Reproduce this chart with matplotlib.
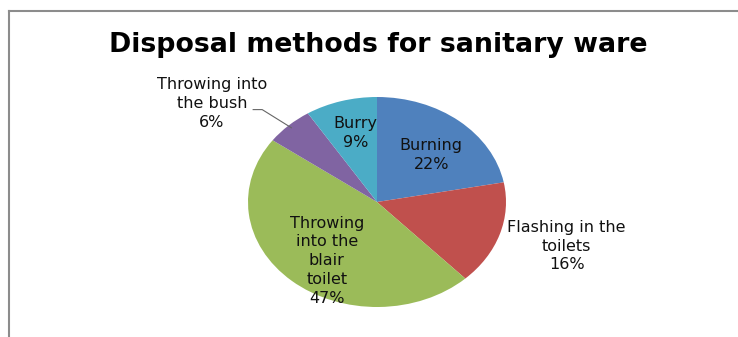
import matplotlib
matplotlib.use("Agg")
import matplotlib.pyplot as plt
import numpy as np

plt.rcParams['font.family'] = ['DejaVu Sans']

# data
categories = ["Burning", "Flashing in the\ntoilets", "Throwing\ninto the\nblair\ntoilet",
              "Throwing into\nthe bush", "Burry"]
shares = [22, 16, 47, 6, 9]
colors = ["#4F81BD", "#C0504D", "#9BBB59", "#8064A2", "#4BACC6"]

# where each data label sits, in pie units (x and y radius = 1)
label_xy = [(0.42, 0.45), (1.47, -0.42), (-0.39, -0.56), (-1.28, 0.94), (-0.165, 0.66)]

fig = plt.figure(figsize=(7.38, 3.37), dpi=100)

# chart frame: only top and left edges are visible in the crop
frame = fig.add_axes([0, 0, 1, 1])
frame.set_xlim(0, 738)
frame.set_ylim(337, 0)
frame.axis('off')
frame.plot([9, 738], [10.5, 10.5], color="#8c8c8c", lw=1.5)
frame.plot([9, 9], [10.5, 337], color="#8c8c8c", lw=1.5)

fig.text(378 / 738, 1 - 45 / 337, "Disposal methods for sanitary ware",
         ha='center', va='center', fontsize=19.3, fontweight='bold')

# the pie is an ellipse in the original, so stretch the axes
ax = fig.add_axes([248 / 738, 30 / 337, 258 / 738, 210 / 337])
wedges, _ = ax.pie(shares, colors=colors, startangle=90, counterclock=False,
                   radius=1, wedgeprops=dict(linewidth=0))
ax.set_aspect('auto')
ax.set_xlim(-1, 1)
ax.set_ylim(-1, 1)

for name, val, (x, y) in zip(categories, shares, label_xy):
    ax.text(x, y, f"{name}\n{val}%", ha='center', va='center', fontsize=11.5,
            linespacing=1.32, color="#111111")

# leader line for the small purple slice
w = wedges[3]
mid = np.deg2rad((w.theta1 + w.theta2) / 2)
ax.plot([np.cos(mid) * 0.97, -0.89, -0.96], [np.sin(mid) * 0.97, 0.88, 0.88],
        color="#666666", lw=0.8, clip_on=False)

fig.savefig("out.png", dpi=100)
